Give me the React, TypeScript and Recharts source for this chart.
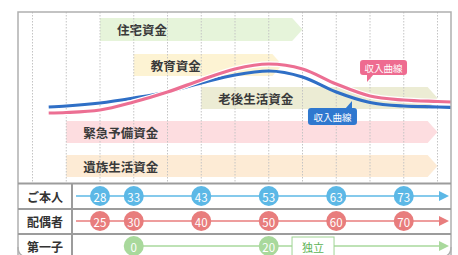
import React from 'react';
import { ComposedChart, XAxis, YAxis, Line, Scatter, ReferenceArea, ReferenceLine, ReferenceDot } from 'recharts';

// ---- data ----
const ages = [20.4, 23, 28, 33, 38, 43, 48, 53, 58, 63, 68, 73, 78, 80];
const incomeBlue = [148, 149, 152, 157, 163, 172, 180, 184, 178, 163, 152.5, 149, 148, 147.5];
const incomePink = [142, 142.5, 145, 153, 163, 175, 186, 191, 186, 171, 159, 155, 153.5, 153];

const gridAges = [18, 23, 28, 33, 38, 43, 48, 53, 58, 63, 68, 73, 78];

const bandNames = ['住宅資金', '教育資金', '老後生活資金', '緊急予備資金', '遺族生活資金'];
const bandStart = [28, 33, 43, 23, 23];
const bandEnd = [58, 55, 78, 78, 78];
const bandColors = ['#e6f4da', '#fdf3d3', '#ececd4', '#fddde0', '#fdebd5'];

const rowLabels = ['ご本人', '配偶者', '第一子'];
const selfAges = [28, 33, 43, 53, 63, 73];
const spouseAges = [25, 30, 40, 50, 60, 70];
const spouseGap = 3;
const childAges = [0, 20];
const childBornAt = 33;
const childIndependentLabel = '独立';
const calloutText = '収入曲線';

// ---- layout ----
const W = 458;
const H = 255;
const X_DOMAIN: [number, number] = [13.185, 81.037];
const bandRows: [number, number][] = [[214, 237], [179, 201], [146, 168], [112, 134], [78, 100]];
const rowValues = [59, 34, 9];
const gridTop = 243;
const gridBottom = 72;
const lineStartAge = 24.44;
const lineEndAge = 78.37;
const FONT = '"Noto Sans CJK JP", "Noto Sans", sans-serif';

const SELF = '#5cb8e6';
const SPOUSE = '#e87d7d';
const CHILD = '#a9d99c';

function bandShape(name: string, color: string) {
  return (props: any) => {
    const { x, y, width, height } = props;
    const tip = height * 0.45;
    const pts = `${x},${y} ${x + width - tip},${y} ${x + width},${y + height / 2} ${x + width - tip},${y + height} ${x},${y + height}`;
    return (
      <g>
        <polygon points={pts} fill={color} />
        <text x={x + 17} y={y + height / 2} dominantBaseline="central" fontSize={12.5} fontWeight="bold" fill="#3a3a3a" fontFamily={FONT}>
          {name}
        </text>
      </g>
    );
  };
}

function circleShape(color: string) {
  return (props: any) => {
    const { cx, cy } = props;
    const label = props.payload?.label ?? props.label;
    return (
      <g>
        <circle cx={cx} cy={cy} r={10} fill={color} />
        <text x={cx} y={cy + 0.5} textAnchor="middle" dominantBaseline="central" fontSize={11.5} fill="#fff" fontFamily={FONT}>
          {label}
        </text>
      </g>
    );
  };
}

function arrowDot(color: string) {
  return (props: any) => {
    const { cx, cy, index } = props;
    if (index !== 1) return <g key={`d${index}`} />;
    return <polygon key={`d${index}`} points={`${cx - 1},${cy - 5} ${cx + 9},${cy} ${cx - 1},${cy + 5}`} fill={color} />;
  };
}

const pinkCallout = (props: any) => {
  const { cx, cy } = props;
  const c = '#ee6b90';
  return (
    <g>
      <rect x={cx - 7} y={cy - 22} width={47} height={15} rx={3} fill={c} />
      <polygon points={`${cx},${cy - 8} ${cx + 7},${cy - 8} ${cx},${cy}`} fill={c} />
      <text x={cx + 16.5} y={cy - 14.5} textAnchor="middle" dominantBaseline="central" fontSize={9.5} fill="#fff" fontFamily={FONT}>{calloutText}</text>
    </g>
  );
};

const blueCallout = (props: any) => {
  const { cx, cy } = props;
  const c = '#2f78cf';
  return (
    <g>
      <rect x={cx - 44} y={cy + 7} width={49} height={17} rx={3} fill={c} />
      <polygon points={`${cx},${cy} ${cx},${cy + 8} ${cx - 7},${cy + 8}`} fill={c} />
      <text x={cx - 19.5} y={cy + 15.5} textAnchor="middle" dominantBaseline="central" fontSize={9.5} fill="#fff" fontFamily={FONT}>{calloutText}</text>
    </g>
  );
};

const independentBox = (props: any) => {
  const { cx, cy } = props;
  return (
    <g>
      <rect x={cx - 21} y={cy - 9} width={42} height={22} fill="#fff" stroke="#9fd494" strokeWidth={1} />
      <text x={cx} y={cy + 1} textAnchor="middle" dominantBaseline="central" fontSize={11} fill="#5cb356" fontFamily={FONT}>{childIndependentLabel}</text>
    </g>
  );
};

export default function App() {
  const curveData = ages.map((a, i) => ({ age: a, blue: incomeBlue[i], pink: incomePink[i] }));
  const selfPts = selfAges.map((a) => ({ age: a, v: rowValues[0], label: String(a) }));
  const spousePts = spouseAges.map((a) => ({ age: a + spouseGap, v: rowValues[1], label: String(a) }));
  const childPts = childAges.map((a) => ({ age: a + childBornAt, v: rowValues[2], label: String(a) }));
  const rowLine = (v: number, start: number) => [{ age: start, v }, { age: lineEndAge, v }];

  return (
    <div style={{ position: 'absolute', left: 0, top: 0, width: W, height: H, background: '#fff', overflow: 'hidden' }}>
      <ComposedChart width={W} height={H} data={curveData} margin={{ top: 0, right: 0, bottom: 0, left: 0 }}>
        <XAxis type="number" dataKey="age" domain={X_DOMAIN} hide allowDataOverflow />
        <YAxis type="number" domain={[0, 255]} hide allowDataOverflow />
        {bandNames.map((n, i) => (
          <ReferenceArea
            key={n}
            x1={bandStart[i]}
            x2={bandEnd[i]}
            y1={bandRows[i][0]}
            y2={bandRows[i][1]}
            ifOverflow="visible"
            shape={bandShape(n, bandColors[i])}
          />
        ))}
        {gridAges.map((a) => (
          <ReferenceLine
            key={`g${a}`}
            segment={[{ x: a, y: gridTop }, { x: a, y: gridBottom }]}
            stroke="#c4c4c4"
            strokeWidth={1}
            strokeDasharray="1.5 1.5"
            ifOverflow="visible"
          />
        ))}
        <Line dataKey="blue" type="monotone" stroke="#2f6fc6" strokeWidth={3.2} dot={false} activeDot={false} strokeLinecap="butt" isAnimationActive={false} />
        <Line dataKey="pink" type="monotone" stroke="#ffffff" strokeWidth={5.5} dot={false} activeDot={false} strokeLinecap="butt" isAnimationActive={false} />
        <Line dataKey="pink" type="monotone" stroke="#ec6f93" strokeWidth={3.2} dot={false} activeDot={false} strokeLinecap="butt" isAnimationActive={false} />
        <ReferenceDot x={67.56} y={173} ifOverflow="visible" shape={pinkCallout} />
        <ReferenceDot x={65.33} y={154} ifOverflow="visible" shape={blueCallout} />
        <Line data={rowLine(rowValues[0], lineStartAge)} dataKey="v" type="linear" stroke={SELF} strokeWidth={1.5} dot={arrowDot(SELF)} activeDot={false} isAnimationActive={false} />
        <Line data={rowLine(rowValues[1], lineStartAge)} dataKey="v" type="linear" stroke={SPOUSE} strokeWidth={1.5} dot={arrowDot(SPOUSE)} activeDot={false} isAnimationActive={false} />
        <Line data={rowLine(rowValues[2], childBornAt)} dataKey="v" type="linear" stroke={CHILD} strokeWidth={1.5} dot={arrowDot(CHILD)} activeDot={false} isAnimationActive={false} />
        <ReferenceDot x={59.56} y={rowValues[2]} ifOverflow="visible" shape={independentBox} />
        <Scatter data={selfPts} dataKey="v" shape={circleShape(SELF)} isAnimationActive={false} />
        <Scatter data={spousePts} dataKey="v" shape={circleShape(SPOUSE)} isAnimationActive={false} />
        <Scatter data={childPts} dataKey="v" shape={circleShape(CHILD)} isAnimationActive={false} />
      </ComposedChart>
      <svg width={W} height={H} style={{ position: 'absolute', left: 0, top: 0, pointerEvents: 'none' }}>
        <path d="M18,258 L18,12 L451,12 L451,258" fill="none" stroke="#b0b0b0" strokeWidth={1.5} />
        <path d="M18,247 Q18,257 28,257 M451,247 Q451,257 441,257" fill="none" stroke="#b0b0b0" strokeWidth={1.5} />
        <line x1={18} x2={451} y1={183.5} y2={183.5} stroke="#9c9c9c" strokeWidth={2} />
        <line x1={18} x2={451} y1={209} y2={209} stroke="#9c9c9c" strokeWidth={2} />
        <line x1={18} x2={451} y1={234} y2={234} stroke="#9c9c9c" strokeWidth={2} />
        <line x1={72} x2={72} y1={183.5} y2={258} stroke="#9c9c9c" strokeWidth={2} />
        {rowLabels.map((l, i) => (
          <text key={l} x={45} y={196 + i * 25} textAnchor="middle" dominantBaseline="central" fontSize={12} fontWeight="bold" fill="#333" fontFamily={FONT}>
            {l}
          </text>
        ))}
      </svg>
    </div>
  );
}
